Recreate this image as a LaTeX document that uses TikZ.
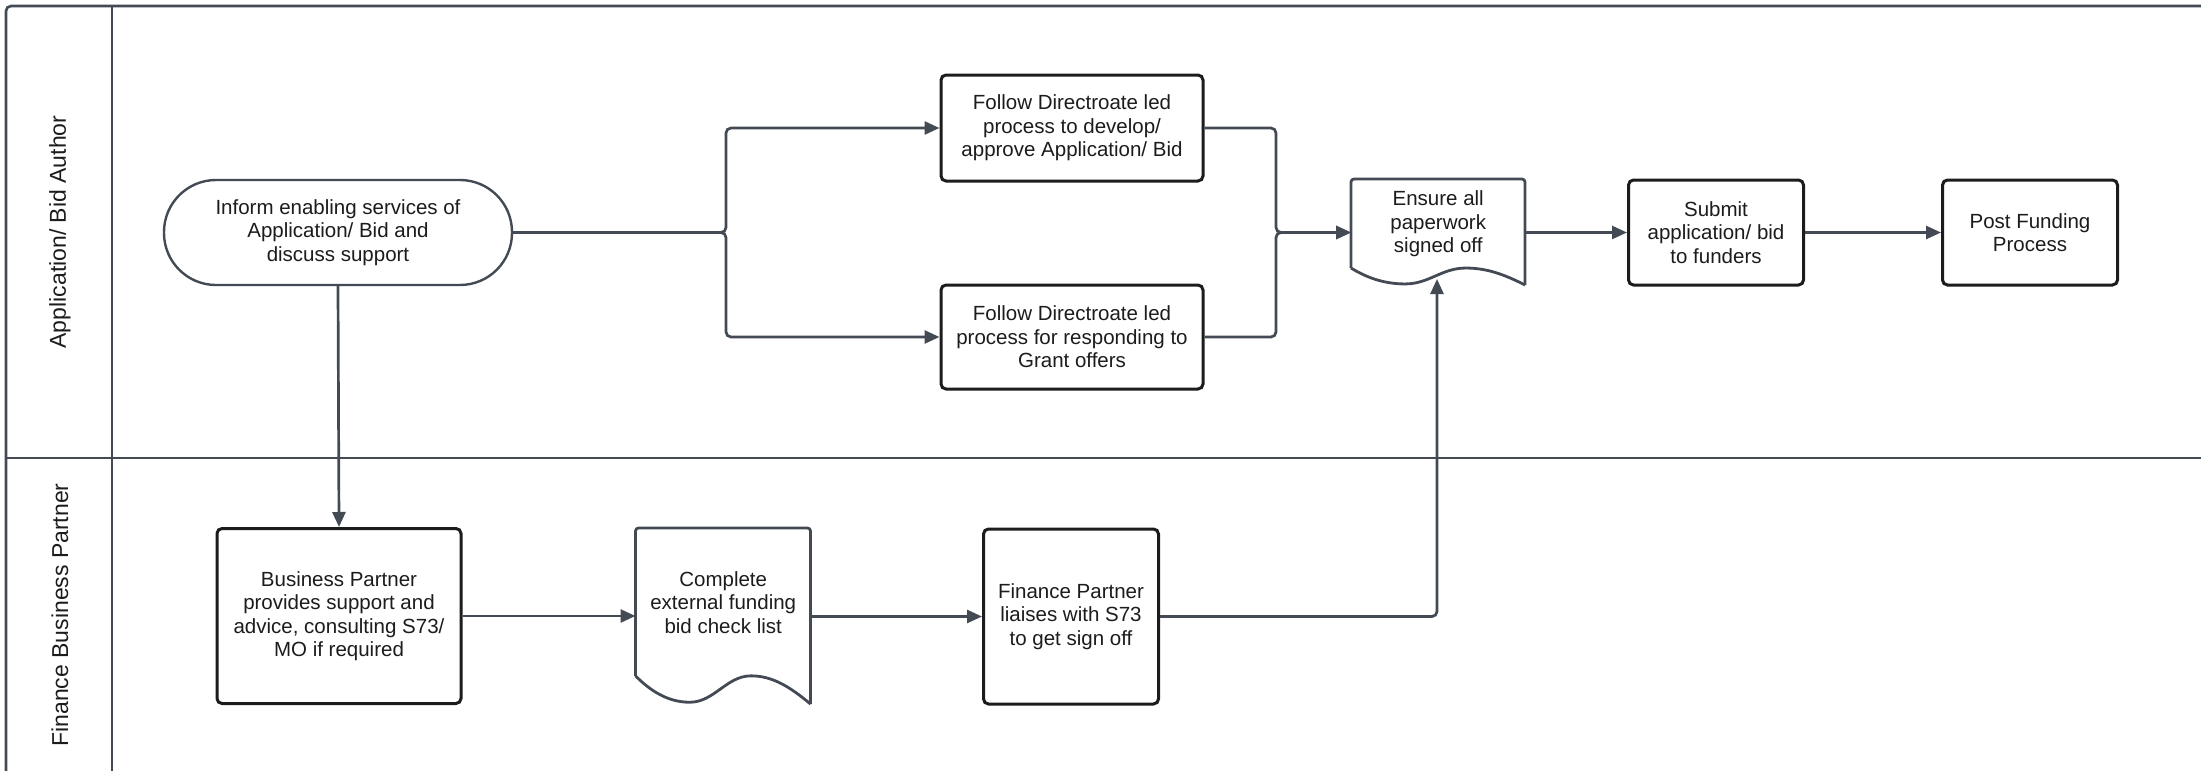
\documentclass[tikz,border=0pt]{standalone}
\usepackage{fontspec}
\setmainfont{Liberation Sans}
\usetikzlibrary{arrows.meta,calc}
\definecolor{slate}{HTML}{434A54}
\definecolor{ink}{HTML}{1C1C1C}
\newcommand{\nodefont}{\fontsize{20.5}{23.5}\selectfont}
\newcommand{\lanefont}{\fontsize{23}{27}\selectfont}
\tikzset{
  laneline/.style={draw=slate, line width=2.6pt},
  proc/.style={draw=ink, line width=3pt, rounded corners=5pt, fill=white, align=center, text=ink, font=\nodefont, inner sep=4pt},
  termbox/.style={proc, line width=2.4pt, draw=slate, rounded corners=52pt},
  docbox/.style={align=center, text=ink, font=\nodefont, inner sep=0pt},
  docline/.style={draw=slate, line width=2.8pt, line join=round},
  flow/.style={draw=slate, line width=2.7pt, -{Triangle[length=15pt,width=13pt]}, rounded corners=5pt},
  lanelabel/.style={rotate=90, font=\lanefont, text=ink},
}
% document outline: #1 node name (north west corner), #2 width, #3 full height
\newcommand{\docoutline}[3]{%
  \begin{scope}[shift={(#1.north west)}]
    \draw[docline, rounded corners=3pt] (0,{0.84*#3}) -- (0,0) -- (#2,0) -- (#2,#3);
    \draw[docline] (#2,#3)
      .. controls ({0.88*#2},{0.90*#3}) and ({0.78*#2},{0.84*#3}) .. ({0.66*#2},{0.84*#3})
      .. controls ({0.52*#2},{0.84*#3}) and ({0.45*#2},{0.99*#3}) .. ({0.31*#2},{0.99*#3})
      .. controls ({0.18*#2},{0.99*#3}) and ({0.08*#2},{0.92*#3}) .. (0,{0.84*#3});
  \end{scope}}
\begin{document}
\begin{tikzpicture}[x=1pt,y=-1pt]
\useasboundingbox (0,0) rectangle (2201,771);
% swimlane frame
\draw[laneline, rounded corners=5pt] (6,771) -- (6,6) -- (2201,6);
\draw[laneline] (112,6) -- (112,771);
\draw[laneline] (6,458) -- (2201,458);
\node[lanelabel] (laneA) at (60,232) {Application/ Bid Author};
\node[lanelabel] (laneB) at (60,615) {Finance Business Partner};

% nodes
\node[termbox, minimum width=348pt, minimum height=105pt] (term) at (338,232.5) {Inform enabling services of\\Application/ Bid and\\discuss support};
\node[proc, minimum width=262pt, minimum height=106pt] (dev) at (1072,128) {Follow Directroate led\\process to develop/\\approve Application/ Bid};
\node[proc, minimum width=262pt, minimum height=104pt] (grant) at (1072,337) {Follow Directroate led\\process for responding to\\Grant offers};
\node[docbox, minimum width=174pt, minimum height=89pt, anchor=north west] (ensure) at (1351,179) {Ensure all\\paperwork\\signed off};
\docoutline{ensure}{174}{106}
\node[proc, minimum width=175pt, minimum height=105pt] (submit) at (1716,232.5) {Submit\\application/ bid\\to funders};
\node[proc, minimum width=175pt, minimum height=105pt] (post) at (2030,232.5) {Post Funding\\Process};

\node[proc, minimum width=244pt, minimum height=175pt] (bp) at (339,616) {Business Partner\\provides support and\\advice, consulting S73/\\MO if required};
\node[docbox, minimum width=175pt, minimum height=148pt, anchor=north west] (check) at (635.5,528) {Complete\\external funding\\bid check list};
\docoutline{check}{175}{176}
\node[proc, minimum width=175pt, minimum height=175pt] (fp) at (1071,616.5) {Finance Partner\\liaises with S73\\to get sign off};

% junction points
\coordinate (split) at (726,232.5);
\coordinate (merge) at (1276,232.5);
\coordinate (ensurein) at (1437,279);

% connectors
\draw[flow] (term.east) -- (split) |- (dev.west);
\draw[flow] (term.east) -- (split) |- (grant.west);
\draw[flow] (dev.east) -| (merge) -- (merge -| ensure.west);
\draw[flow] (grant.east) -| (merge) -- (merge -| ensure.west);
\draw[flow] (ensure.east |- submit.west) -- (submit.west);
\draw[flow] (submit.east) -- (post.west);
\draw[flow] (term.south) -- (bp.north);
\draw[flow] (bp.east) -- (bp.east -| check.west);
\draw[flow] (check.east |- fp.west) -- (fp.west);
\draw[flow] (fp.east) -| (ensurein);
\end{tikzpicture}
\end{document}
